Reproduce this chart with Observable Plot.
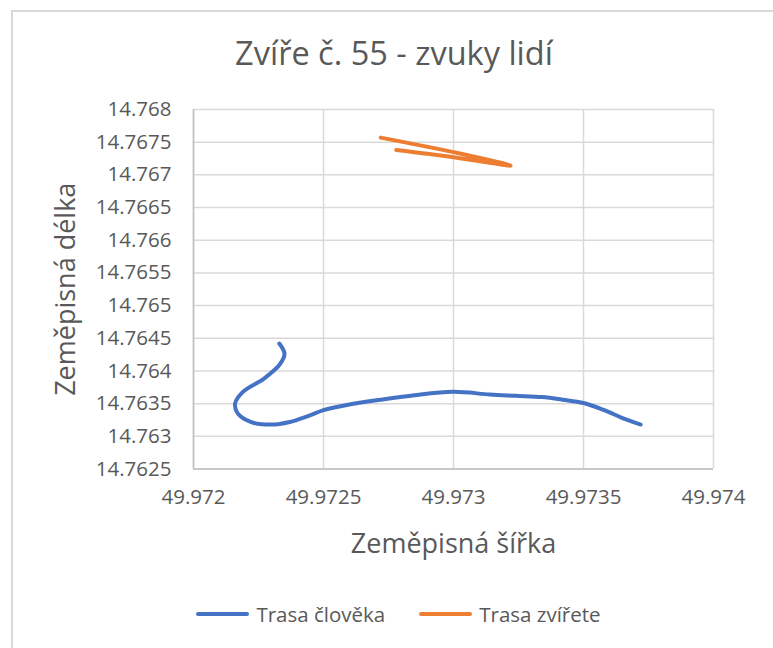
<!DOCTYPE html>
<html>
<head>
<meta charset="utf-8">
<script src="https://cdn.jsdelivr.net/npm/d3@7"></script>
<script src="https://cdn.jsdelivr.net/npm/@observablehq/plot@0.6"></script>
<style>
  html, body { margin: 0; padding: 0; background: #fff; }
  #wrap { position: relative; width: 773px; height: 648px; overflow: hidden; font-family: "Open Sans", sans-serif; color: #595959; }
  #border { position: absolute; left: 11px; top: 10px; width: 800px; height: 700px; border: 2px solid #d9d9d9; box-sizing: border-box; }
  #title { position: absolute; left: 0; top: 30px; width: 788px; text-align: center; font-size: 32.5px; color: #595959; }
  #chart { position: absolute; left: 0; top: 0; }
  #legend { position: absolute; left: 0; top: 600px; width: 797px; display: flex; justify-content: center; align-items: center; font-size: 20.5px; color: #595959; gap: 0; }
  .item { display: flex; align-items: center; margin: 0 17px; }
  .sw { width: 53px; height: 4px; border-radius: 2px; margin-right: 7px; }
</style>
</head>
<body>
<div id="wrap">
  <div id="border"></div>
  <div id="title"></div>
  <div id="chart"></div>
  <div id="legend"></div>
</div>
<script>
const titleText = "Zvíře č. 55 - zvuky lidí";
const xLabel = "Zeměpisná šířka";
const yLabel = "Zeměpisná délka";
const seriesNames = ["Trasa člověka", "Trasa zvířete"];
const seriesColors = ["#4472C4", "#ED7D31"];

const xTicks = [49.972, 49.9725, 49.973, 49.9735, 49.974];
const yTicks = [14.7625, 14.763, 14.7635, 14.764, 14.7645, 14.765, 14.7655, 14.766, 14.7665, 14.767, 14.7675, 14.768];

// Trasa člověka (human path)
const humanLat = [49.97233, 49.97235, 49.97233, 49.97227, 49.97219, 49.97216, 49.97217, 49.97222, 49.97230, 49.97237, 49.97244, 49.97250, 49.97259, 49.97272, 49.97285, 49.97300, 49.97314, 49.97324, 49.97334, 49.97342, 49.97350, 49.97358, 49.97365, 49.97372];
const humanLon = [14.76442, 14.76426, 14.76409, 14.76388, 14.76368, 14.76350, 14.76335, 14.76322, 14.76318, 14.76322, 14.76331, 14.76340, 14.76348, 14.76356, 14.76363, 14.76368, 14.76364, 14.76362, 14.76360, 14.76356, 14.76351, 14.76340, 14.76328, 14.76318];

// Trasa zvířete (animal path)
const animalLat = [49.97272, 49.97302, 49.97322, 49.97300, 49.97278];
const animalLon = [14.76757, 14.76733, 14.76714, 14.76727, 14.76738];

const human = humanLat.map((x, i) => ({x, y: humanLon[i], s: seriesNames[0]}));
const animal = animalLat.map((x, i) => ({x, y: animalLon[i], s: seriesNames[1]}));

const fmt = d => String(+d.toFixed(5));

document.getElementById("title").textContent = titleText;

const W = 773, H = 580;
const chart = Plot.plot({
  width: W,
  height: H,
  marginTop: 109,
  marginBottom: H - 468.5,
  marginLeft: 193,
  marginRight: W - 713,
  style: { fontFamily: "Open Sans, sans-serif", fontSize: "20px", color: "#595959", background: "transparent", overflow: "visible" },
  x: { domain: [49.972, 49.974] },
  y: { domain: [14.7625, 14.768] },
  color: { domain: seriesNames, range: seriesColors },
  marks: [
    Plot.gridX(xTicks, { stroke: "#d9d9d9", strokeOpacity: 1, strokeWidth: 1.5 }),
    Plot.gridY(yTicks, { stroke: "#d9d9d9", strokeOpacity: 1, strokeWidth: 1.5 }),
    Plot.ruleX([49.972], { stroke: "#bfbfbf", strokeWidth: 1.5 }),
    Plot.ruleY([14.7625], { stroke: "#bfbfbf", strokeWidth: 1.5 }),
    Plot.axisX(xTicks, { tickSize: 0, tickPadding: 20, tickFormat: fmt, fill: "#595959", fontSize: 20.5,
      label: xLabel, labelAnchor: "center", labelArrow: "none", labelOffset: 84 }),
    Plot.axisY(yTicks, { tickSize: 0, tickPadding: 22, tickFormat: fmt, fill: "#595959", fontSize: 20.5,
      label: yLabel, labelAnchor: "center", labelArrow: "none", labelOffset: 138 }),
    Plot.line(human, { x: "x", y: "y", stroke: "s", strokeWidth: 4, curve: "catmull-rom", strokeLinecap: "round", strokeLinejoin: "round" }),
    Plot.line(animal, { x: "x", y: "y", stroke: "s", strokeWidth: 4, curve: "catmull-rom", strokeLinecap: "round", strokeLinejoin: "round" })
  ]
});
document.getElementById("chart").appendChild(chart);

// axis titles are larger than the tick labels
chart.querySelectorAll("g[aria-label='x-axis label'] text, g[aria-label='y-axis label'] text").forEach(t => {
  t.style.fontSize = "27px";
});

const legend = document.getElementById("legend");
seriesNames.forEach((n, i) => {
  const it = document.createElement("div");
  it.className = "item";
  const sw = document.createElement("div");
  sw.className = "sw";
  sw.style.background = seriesColors[i];
  const tx = document.createElement("span");
  tx.textContent = n;
  it.appendChild(sw); it.appendChild(tx);
  legend.appendChild(it);
});
</script>
</body>
</html>
